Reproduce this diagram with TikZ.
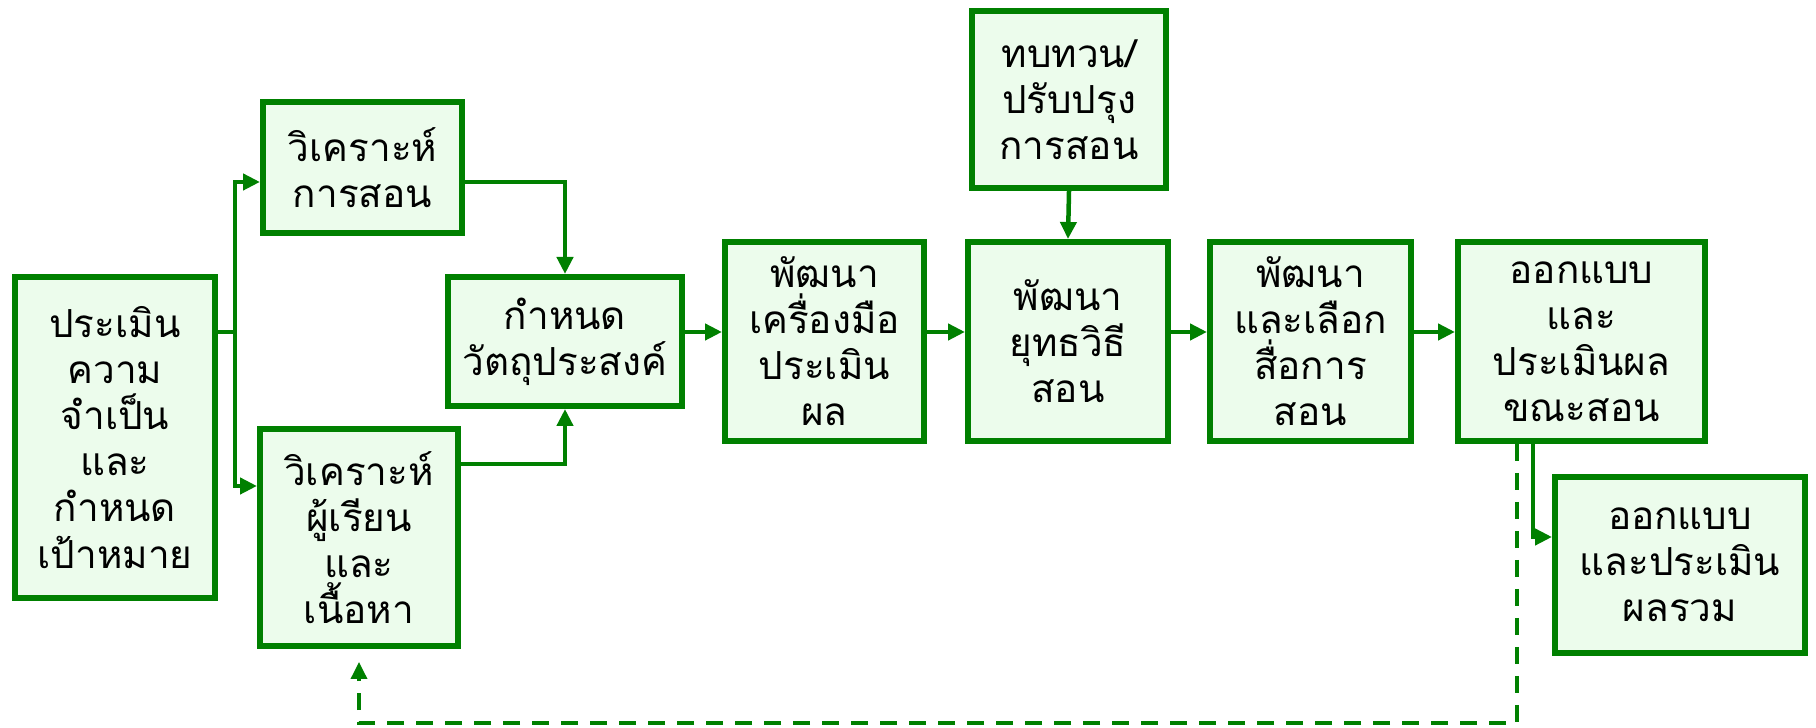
\documentclass[tikz,border=0pt]{standalone}
\usepackage{fontspec}
\newfontfamily\thaifont[Script=Thai]{Loma}
\usepackage{tikz}
\usetikzlibrary{arrows.meta}
\definecolor{boxgreen}{RGB}{0,128,0}
\definecolor{boxfill}{RGB}{236,252,236}
\tikzset{
	stage/.style={draw=boxgreen,fill=boxfill,line width=0.6mm,align=center,inner sep=0pt,
		font=\thaifont\fontsize{11}{13.1}\selectfont},
	link/.style={draw=boxgreen,line width=0.45mm},
	flow/.style={link,-{Triangle[length=1.7mm,width=1.6mm]}},
	feedback/.style={flow,line width=0.35mm,dash pattern=on 1.7mm off 1.2mm,shorten >=1.3mm},
}
\begin{document}
\begin{tikzpicture}
		\useasboundingbox (0,0) rectangle (18.16,7.28);
		\node[stage,minimum width=2.00cm,minimum height=3.21cm] (need) at (1.15,2.905) {ประเมิน\\ความ\\จำเป็น\\และ\\กำหนด\\เป้าหมาย};
		\node[stage,minimum width=1.99cm,minimum height=1.31cm] (teach) at (3.625,5.605) {วิเคราะห์\\การสอน};
		\node[stage,minimum width=1.98cm,minimum height=2.17cm] (learner) at (3.59,1.905) {วิเคราะห์\\ผู้เรียน\\และ\\เนื้อหา};
		\node[stage,minimum width=2.34cm,minimum height=1.29cm] (goal) at (5.65,3.865) {กำหนด\\วัตถุประสงค์};
		\node[stage,minimum width=1.99cm,minimum height=1.99cm] (tool) at (8.245,3.865) {พัฒนา\\เครื่องมือ\\ประเมิน\\ผล};
		\node[stage,minimum width=2.00cm,minimum height=1.99cm] (method) at (10.68,3.865) {พัฒนา\\ยุทธวิธี\\สอน};
		\node[stage,minimum width=1.94cm,minimum height=1.77cm] (review) at (10.69,6.285) {ทบทวน/\\ปรับปรุง\\การสอน};
		\node[stage,minimum width=2.01cm,minimum height=1.99cm] (media) at (13.105,3.865) {พัฒนา\\และเลือก\\สื่อการ\\สอน};
		\node[stage,minimum width=2.47cm,minimum height=1.99cm] (formative) at (15.815,3.865) {ออกแบบ\\และ\\ประเมินผล\\ขณะสอน};
		\node[stage,minimum width=2.50cm,minimum height=1.76cm] (summative) at (16.80,1.63) {ออกแบบ\\และประเมิน\\ผลรวม};
		\coordinate (fork) at (2.35,3.96);
		\coordinate (back) at (10,0.05);
		%
		\draw[link] (need.east |- fork) -- (fork);
		\draw[flow] (fork) |- ([yshift=-1.45mm]teach.west);
		\draw[flow] (fork) |- ([yshift=5.15mm]learner.west);
		\draw[flow] ([yshift=-1.45mm]teach.east) -| (goal.north);
		\draw[flow] ([yshift=7.35mm]learner.east) -| (goal.south);
		\draw[flow] ([yshift=0.95mm]goal.east) -- ([yshift=0.95mm]tool.west);
		\draw[flow] ([yshift=0.95mm]tool.east) -- ([yshift=0.95mm]method.west);
		\draw[flow] ([yshift=0.95mm]method.east) -- ([yshift=0.95mm]media.west);
		\draw[flow] ([yshift=0.95mm]media.east) -- ([yshift=0.95mm]formative.west);
		\draw[flow] (review.south) -- (method.north);
		\draw[flow] ([xshift=-4.85mm]formative.south) |- ([yshift=2.8mm]summative.west);
		\draw[feedback] ([xshift=-6.45mm]formative.south) |- (back) -| (learner.south);
\end{tikzpicture}
\end{document}
